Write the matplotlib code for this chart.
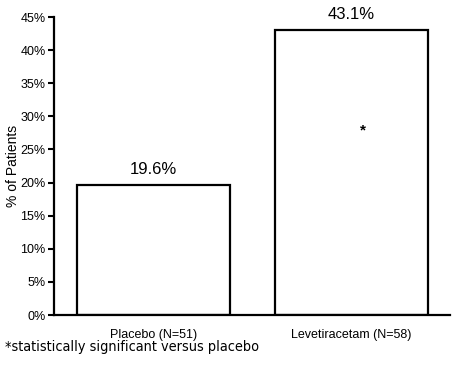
import matplotlib
matplotlib.use('Agg')
from matplotlib import pyplot as plt
from matplotlib.ticker import PercentFormatter

grupos = ['Placebo (N=51)', 'Levetiracetam (N=58)']
valores = [19.6, 43.1]
etiquetas = ['19.6%', '43.1%']
yticks = [0, 5, 10, 15, 20, 25, 30, 35, 40, 45]

plt.rcParams['font.family'] = ['Liberation Sans', 'DejaVu Sans']

fig = plt.figure(figsize=(4.6, 3.65), dpi=100)
ax = fig.add_axes([54/460, 1 - 315/365, 396/460, 298/365])

x = list(range(len(grupos)))
ax.bar(x, valores, width=0.773, color='white', edgecolor='black', linewidth=1.6)

for xi, v, t in zip(x, valores, etiquetas):
    ax.text(xi, v + 1.2, t, ha='center', va='bottom', fontsize=12)
ax.text(1.057, 27.8, '*', ha='center', va='center', fontsize=11, fontweight='bold')

ax.set_xlim(-0.503, 1.497)
ax.set_ylim(0, 45)
ax.set_yticks(yticks)
ax.yaxis.set_major_formatter(PercentFormatter(decimals=0))
ax.set_xticks(x)
ax.set_xticklabels(grupos, fontsize=9)
ax.tick_params(axis='x', length=0, pad=10)
ax.tick_params(axis='y', length=4, width=1.5, labelsize=9, pad=2)
ax.set_ylabel('% of Patients', fontsize=10, labelpad=0)

for s in ['top', 'right']:
    ax.spines[s].set_visible(False)
for s in ['left', 'bottom']:
    ax.spines[s].set_linewidth(1.6)

fig.text(5/460, 1 - 351/365, '*statistically significant versus placebo',
         fontsize=10.4, va='baseline', ha='left', fontstretch='condensed',
         family=['DejaVu Sans'])

fig.savefig('out.png', dpi=100)
